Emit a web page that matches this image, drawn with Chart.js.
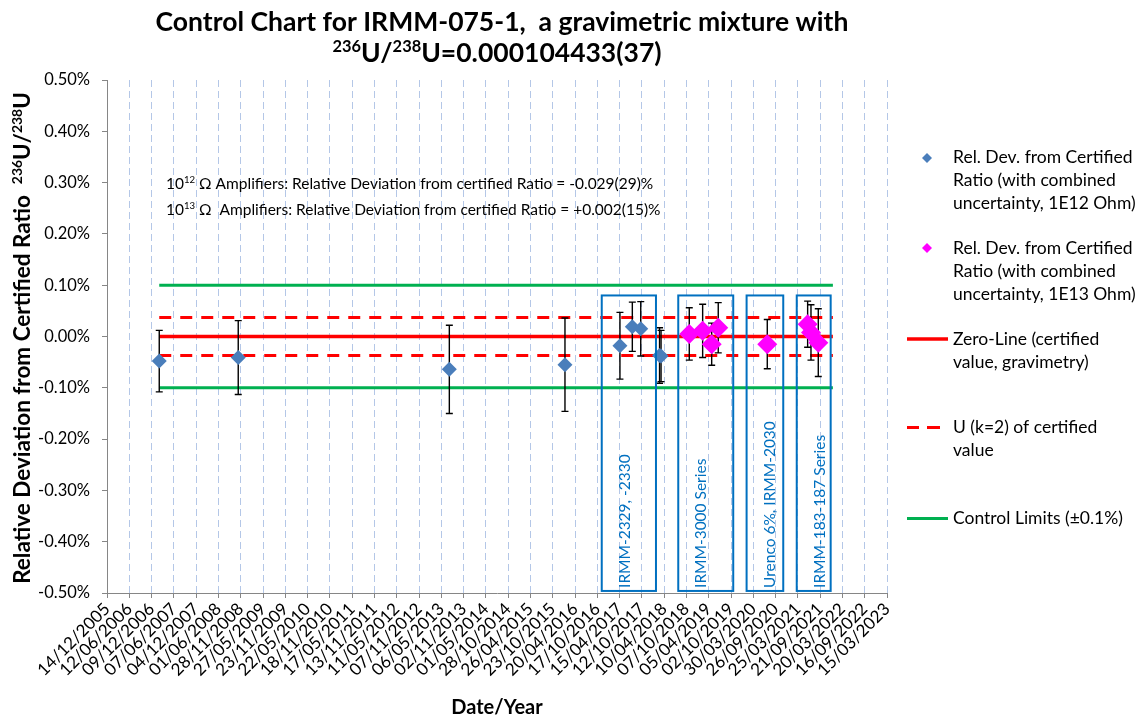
<!DOCTYPE html>
<html>
<head>
<meta charset="utf-8">
<title>Control Chart for IRMM-075-1</title>
<script src="https://cdn.jsdelivr.net/npm/chart.js@4.4.1/dist/chart.umd.min.js"></script>
<style>
  html, body { margin: 0; padding: 0; background: #fff; }
  canvas { display: block; }
</style>
</head>
<body>
<canvas id="controlChart" width="1143" height="718"></canvas>
<script>
// measurement dates (dd/mm/yyyy) and relative deviations in %
var blueDates = ['09/02/2007', '08/11/2008', '10/07/2013', '30/01/2016', '18/04/2017', '27/07/2017', '03/10/2017', '04/03/2018', '16/03/2018'];
var blueValues = [-0.048, -0.041, -0.064, -0.055, -0.018, 0.019, 0.015, -0.037, -0.038];
var blueErr = [0.060, 0.072, 0.086, 0.091, 0.065, 0.048, 0.053, 0.054, 0.050];

var magentaDates = ['30/10/2018', '15/02/2019', '29/04/2019', '21/06/2019', '21/07/2020', '12/06/2021', '09/07/2021', '06/09/2021'];
var magentaValues = [0.005, 0.011, -0.015, 0.017, -0.015, 0.024, 0.008, -0.012];
var magentaErr = [0.051, 0.052, 0.041, 0.049, 0.048, 0.045, 0.054, 0.066];

// reference lines
var lineDates = ['09/02/2007', '02/01/2022'];
var zeroLine = 0;
var uLimit = 0.037;
var controlLimit = 0.1;

// axes
var xMinDate = '14/12/2005';
var xMaxDate = '15/03/2023';
var xStepDays = 180;
var yMin = -0.5, yMax = 0.5, yStep = 0.1;

// campaign boxes
var boxLabels = ['IRMM-2329, -2330', 'IRMM-3000 Series', 'Urenco 6%, IRMM-2030', 'IRMM-183-187 Series'];
var boxFrom = ['22/11/2016', '02/08/2018', '05/02/2020', '16/03/2021'];
var boxTo = ['03/02/2018', '20/10/2019', '27/11/2020', '15/12/2021'];
var boxTop = 0.08, boxBottom = -0.496;

var FONT = 'Lato, "Liberation Sans", sans-serif';

function pad(n) { return (n < 10 ? '0' : '') + n; }
function toSerial(s) {
  var p = s.split('/');
  return Math.round((Date.UTC(+p[2], +p[1] - 1, +p[0]) - Date.UTC(1899, 11, 30)) / 86400000);
}
function fromSerial(n) {
  var d = new Date(Date.UTC(1899, 11, 30) + n * 86400000);
  return pad(d.getUTCDate()) + '/' + pad(d.getUTCMonth() + 1) + '/' + d.getUTCFullYear();
}
function pts(dates, values) {
  return dates.map(function (d, i) { return { x: toSerial(d), y: values[i] }; });
}
function flat(v) {
  return lineDates.map(function (d) { return { x: toSerial(d), y: v }; });
}
function font(size, bold) { return (bold ? 'bold ' : '') + size + 'px ' + FONT; }

// text with superscript parts: [[text, isSup], ...]
function drawRich(ctx, parts, x, y, size, bold, align) {
  var w = 0;
  parts.forEach(function (p) {
    ctx.font = font(p[1] ? size * 0.62 : size, bold);
    w += ctx.measureText(p[0]).width;
  });
  var cx = align === 'center' ? x - w / 2 : x;
  ctx.textAlign = 'left';
  ctx.textBaseline = 'alphabetic';
  parts.forEach(function (p) {
    var s = p[1] ? size * 0.62 : size;
    ctx.font = font(s, bold);
    ctx.fillText(p[0], cx, p[1] ? y - size * 0.36 : y);
    cx += ctx.measureText(p[0]).width;
  });
}

var errorBars = {
  id: 'errorBars',
  beforeDatasetDraw: function (chart, args) {
    if (args.index !== 1) return;
    var ctx = chart.ctx, xs = chart.scales.x, ys = chart.scales.y;
    ctx.save();
    ctx.strokeStyle = '#000';
    ctx.lineWidth = 1.4;
    [[blueDates, blueValues, blueErr], [magentaDates, magentaValues, magentaErr]].forEach(function (s) {
      s[0].forEach(function (d, i) {
        var px = xs.getPixelForValue(toSerial(d));
        var top = ys.getPixelForValue(s[1][i] + s[2][i]);
        var bot = ys.getPixelForValue(s[1][i] - s[2][i]);
        ctx.beginPath();
        ctx.moveTo(px, top); ctx.lineTo(px, bot);
        ctx.moveTo(px - 3.5, top); ctx.lineTo(px + 3.5, top);
        ctx.moveTo(px - 3.5, bot); ctx.lineTo(px + 3.5, bot);
        ctx.stroke();
      });
    });
    ctx.restore();
  }
};

var decorations = {
  id: 'decorations',
  afterDraw: function (chart) {
    var ctx = chart.ctx, xs = chart.scales.x, ys = chart.scales.y;
    ctx.save();

    // campaign boxes
    boxLabels.forEach(function (lab, i) {
      var l = xs.getPixelForValue(toSerial(boxFrom[i]));
      var r = xs.getPixelForValue(toSerial(boxTo[i]));
      var t = ys.getPixelForValue(boxTop);
      var b = ys.getPixelForValue(boxBottom);
      ctx.strokeStyle = '#0070C0';
      ctx.lineWidth = 2;
      ctx.strokeRect(l, t, r - l, b - t);
      ctx.save();
      ctx.translate(l + 23, b - 3);
      ctx.rotate(-Math.PI / 2);
      ctx.fillStyle = '#0070C0';
      ctx.font = font(15.5, false);
      ctx.textAlign = 'left';
      ctx.textBaseline = 'middle';
      ctx.fillText(lab, 0, 0);
      ctx.restore();
    });

    ctx.fillStyle = '#000';
    // title
    drawRich(ctx, [['Control Chart for IRMM-075-1,  a gravimetric mixture with', false]], 502, 31, 26.5, true, 'center');
    drawRich(ctx, [['236', true], ['U/', false], ['238', true], ['U=0.000104433(37)', false]], 497, 62, 26.5, true, 'center');

    // annotation
    drawRich(ctx, [['10', false], ['12', true], [' \u03A9 Amplifiers: Relative Deviation from certified Ratio = -0.029(29)%', false]], 166, 189, 15.5, false, 'left');
    drawRich(ctx, [['10', false], ['13', true], [' \u03A9  Amplifiers: Relative Deviation from certified Ratio = +0.002(15)%', false]], 166, 215, 15.5, false, 'left');

    // y axis title
    ctx.save();
    ctx.translate(30, 338);
    ctx.rotate(-Math.PI / 2);
    drawRich(ctx, [['Relative Deviation from Certified Ratio  ', false], ['236', true], ['U/', false], ['238', true], ['U', false]], 0, 0, 22.5, true, 'center');
    ctx.restore();

    // x axis title
    drawRich(ctx, [['Date/Year', false]], 497, 714, 20, true, 'center');

    // legend
    ctx.font = font(17.5, false);
    ctx.textAlign = 'left';
    ctx.textBaseline = 'middle';
    var tx = 953;
    function diamond(x, y, r, c) {
      ctx.fillStyle = c;
      ctx.beginPath();
      ctx.moveTo(x, y - r); ctx.lineTo(x + r, y); ctx.lineTo(x, y + r); ctx.lineTo(x - r, y);
      ctx.closePath();
      ctx.fill();
    }
    function lines(arr, y) {
      ctx.fillStyle = '#000';
      arr.forEach(function (s, i) { ctx.fillText(s, tx, y + i * 23); });
    }
    diamond(927, 158, 5, '#4A7EBB');
    lines(['Rel. Dev. from Certified', 'Ratio (with combined', 'uncertainty, 1E12 Ohm)'], 157);
    diamond(927, 248, 5, '#FF00FF');
    lines(['Rel. Dev. from Certified', 'Ratio (with combined', 'uncertainty, 1E13 Ohm)'], 248);
    ctx.lineWidth = 3.5;
    ctx.strokeStyle = '#FF0000';
    ctx.beginPath(); ctx.moveTo(907, 339); ctx.lineTo(948, 339); ctx.stroke();
    lines(['Zero-Line (certified', 'value, gravimetry)'], 339);
    ctx.lineWidth = 3;
    ctx.beginPath(); ctx.moveTo(907, 427.5); ctx.lineTo(919, 427.5); ctx.moveTo(927, 427.5); ctx.lineTo(940, 427.5); ctx.stroke();
    lines(['U (k=2) of certified', 'value'], 427);
    ctx.strokeStyle = '#00B050';
    ctx.beginPath(); ctx.moveTo(907, 518.5); ctx.lineTo(948, 518.5); ctx.stroke();
    lines(['Control Limits (\u00B10.1%)'], 518);

    ctx.restore();
  }
};

var ctx = document.getElementById('controlChart').getContext('2d');
var controlChart = new Chart(ctx, {
  type: 'scatter',
  data: {
    datasets: [{
      label: 'Rel. Dev. from Certified Ratio (with combined uncertainty, 1E12 Ohm)',
      data: pts(blueDates, blueValues),
      backgroundColor: '#4A7EBB',
      borderColor: '#4A7EBB',
      borderWidth: 0,
      pointStyle: 'rectRot',
      pointRadius: 7.5
    }, {
      label: 'Rel. Dev. from Certified Ratio (with combined uncertainty, 1E13 Ohm)',
      data: pts(magentaDates, magentaValues),
      backgroundColor: '#FF00FF',
      borderColor: '#FF00FF',
      borderWidth: 0,
      pointStyle: 'rectRot',
      pointRadius: 10
    }, {
      label: 'Zero-Line (certified value, gravimetry)',
      data: flat(zeroLine),
      showLine: true,
      borderColor: '#FF0000',
      borderWidth: 3.5,
      pointRadius: 0
    }, {
      label: 'U (k=2) of certified value',
      data: flat(uLimit),
      showLine: true,
      borderColor: '#FF0000',
      borderWidth: 3,
      borderDash: [12, 9],
      pointRadius: 0
    }, {
      label: 'U (k=2) lower',
      data: flat(-uLimit),
      showLine: true,
      borderColor: '#FF0000',
      borderWidth: 3,
      borderDash: [12, 9],
      pointRadius: 0
    }, {
      label: 'Control Limits (±0.1%)',
      data: flat(controlLimit),
      showLine: true,
      borderColor: '#00B050',
      borderWidth: 3,
      pointRadius: 0
    }, {
      label: 'Control Limits lower',
      data: flat(-controlLimit),
      showLine: true,
      borderColor: '#00B050',
      borderWidth: 3,
      pointRadius: 0
    }]
  },
  options: {
    responsive: false,
    animation: false,
    devicePixelRatio: 1,
    layout: { padding: { top: 80, right: 256, left: 0, bottom: 0 } },
    plugins: {
      legend: { display: false },
      tooltip: { enabled: false }
    },
    scales: {
      x: {
        type: 'linear',
        min: toSerial(xMinDate),
        max: toSerial(xMaxDate),
        afterFit: function (s) { s.height = 125; },
        ticks: {
          stepSize: xStepDays,
          autoSkip: false,
          minRotation: 45,
          maxRotation: 45,
          color: '#000',
          padding: 1,
          font: { family: FONT, size: 17 },
          callback: function (v) { return fromSerial(v); }
        },
        grid: {
          color: '#B4C7E7',
          lineWidth: 1,
          tickColor: '#868686',
          tickLength: 5,
          tickBorderDash: []
        },
        border: { color: '#868686', width: 1, dash: [7, 4] }
      },
      y: {
        min: yMin,
        max: yMax,
        afterFit: function (s) { s.width = 107; },
        ticks: {
          stepSize: yStep,
          color: '#000',
          padding: 12,
          font: { family: FONT, size: 16.5 },
          callback: function (v) { return (Math.abs(v) < 1e-9 ? 0 : v).toFixed(2) + '%'; }
        },
        grid: { drawOnChartArea: false, tickLength: 5, tickColor: '#868686' },
        border: { color: '#868686', width: 1 }
      }
    }
  },
  plugins: [errorBars, decorations]
});
</script>
</body>
</html>
